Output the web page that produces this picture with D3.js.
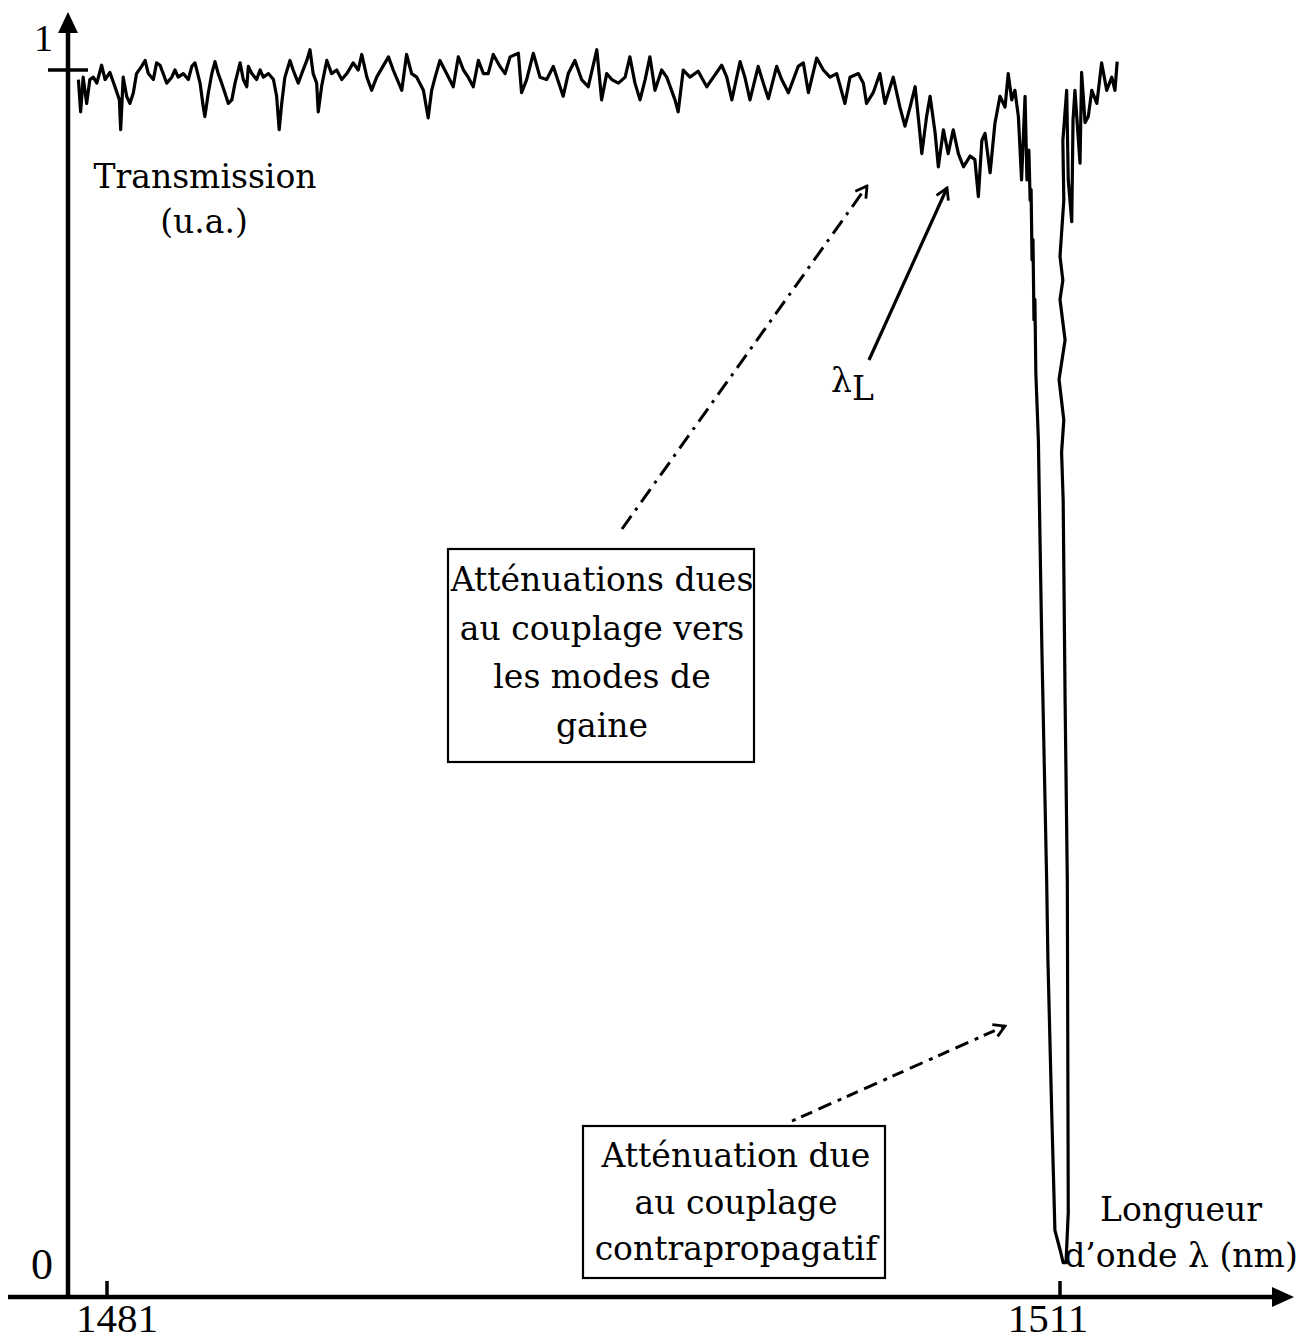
<!DOCTYPE html>
<html>
<head>
<meta charset="utf-8">
<script src="https://cdn.jsdelivr.net/npm/d3@7"></script>
<style>
  html, body { margin: 0; padding: 0; background: #fff; }
  svg { display: block; }
  .txt { font-family: "DejaVu Serif", serif; font-size: 33px; fill: #000; }
  .num { font-family: "Liberation Serif", "Times New Roman", serif; fill: #000; }
</style>
</head>
<body>
<svg id="chart" width="1300" height="1341"></svg>
<script>
// Transmission spectrum of the grating (wavelength in nm, normalised transmission)
const wavelengthNm = [
  1480.10,1480.17,1480.25,1480.36,1480.46,1480.57,1480.68,1480.83,1480.94,1481.09,
  1481.25,1481.39,1481.43,1481.51,1481.62,1481.72,1481.83,1481.93,1482.09,1482.20,
  1482.30,1482.46,1482.56,1482.67,1482.77,1482.88,1483.04,1483.14,1483.24,1483.40,
  1483.56,1483.67,1483.77,1483.93,1484.03,1484.08,1484.19,1484.30,1484.40,1484.50,
  1484.61,1484.71,1484.82,1484.93,1485.03,1485.19,1485.29,1485.40,1485.45,1485.56,
  1485.71,1485.82,1485.92,1486.08,1486.24,1486.34,1486.42,1486.50,1486.60,1486.76,
  1486.86,1487.02,1487.13,1487.29,1487.39,1487.49,1487.60,1487.65,1487.76,1487.92,
  1488.07,1488.23,1488.39,1488.55,1488.75,1488.91,
  1489.02,1489.18,1489.33,1489.49,1489.86,1490.01,1490.28,1490.43,1490.59,1490.75,
  1490.96,1491.11,1491.22,1491.33,1491.48,1491.69,1491.90,1492.06,1492.22,1492.37,
  1492.53,1492.69,1492.85,1493.00,1493.16,1493.37,1493.53,1493.69,1493.95,1494.05,
  1494.21,1494.42,1494.63,1494.84,1495.05,1495.36,1495.52,1495.73,1495.94,1496.15,
  1496.42,1496.57,1496.73,1496.89,1497.10,1497.31,1497.46,1497.62,1497.78,1497.94,
  1498.09,1498.25,1498.46,1498.62,1498.88,1498.98,1499.14,1499.35,1499.61,
  1499.88,1500.09,1500.35,1500.51,1500.67,1500.93,1501.08,1501.24,1501.50,1501.66,
  1501.82,1502.08,1502.24,1502.45,1502.76,1502.92,1503.08,1503.34,1503.55,1503.76,
  1503.97,1504.23,1504.39,1504.65,1504.81,1504.91,1505.12,1505.33,1505.49,1505.75,
  1505.96,1506.12,1506.28,1506.44,1506.59,1506.65,1506.80,1506.91,1507.07,1507.17,
  1507.33,1507.48,1507.64,1507.80,1507.96,1508.17,1508.32,1508.43,1508.54,1508.64,
  1508.80,1508.95,1509.11,1509.27,1509.37,1509.48,1509.58,1509.69,1509.79,1509.90,
  1509.96,1510.02,1510.06,1510.09,1510.12,1510.15,1510.18,1510.21,1510.24,1510.32,
  1510.35,1510.43,1510.58,1510.62,1510.74,1510.84,1511.00,1511.10,1511.19,1511.26,
  1511.23,1511.16,1511.10,1511.05,1511.12,1510.97,1511.16,1511.00,1511.09,1511.00,
  1511.12,1511.09,1511.21,1511.26,1511.37,1511.41,1511.47,1511.63,1511.68,1511.79,
  1511.89,1512.00,1512.16,1512.31,1512.47,1512.63,1512.73,1512.80
];
const transmission = [
  0.992,0.965,0.994,0.972,0.992,0.994,0.989,1.004,0.992,0.998,
  0.986,0.975,0.950,0.994,0.978,0.972,0.981,0.997,1.003,1.008,
  0.997,0.992,1.006,1.004,0.997,0.989,0.994,1.000,0.994,0.997,
  0.992,1.003,1.006,0.989,0.969,0.961,0.981,0.997,1.007,0.997,
  0.989,0.981,0.972,0.975,0.989,1.006,0.992,0.986,1.003,0.997,
  0.992,1.000,0.994,0.997,0.992,0.978,0.950,0.972,0.994,1.008,
  1.000,0.989,0.997,1.008,1.017,0.997,0.989,0.965,0.987,1.008,
  0.997,1.000,0.992,0.997,1.006,1.000,
  1.013,0.994,0.983,0.994,1.011,1.000,0.983,1.013,0.997,0.994,
  0.983,0.960,0.983,0.994,1.008,0.997,0.986,1.011,1.000,0.994,
  0.986,1.008,0.997,0.997,1.013,1.003,0.997,1.011,1.014,0.981,
  0.992,1.014,0.994,0.992,1.003,0.978,0.997,1.008,0.992,0.986,
  1.017,0.975,0.997,0.992,0.989,0.994,1.011,0.989,0.975,0.992,
  1.011,0.983,1.000,0.994,0.975,0.965,1.000,0.994,0.999,
  0.986,0.994,1.004,0.994,0.975,1.007,0.994,0.975,1.003,0.989,
  0.976,1.003,0.992,0.981,1.003,1.006,0.981,1.010,1.000,0.994,
  0.997,0.972,0.994,0.997,0.989,0.972,0.981,0.997,0.972,0.994,
  0.969,0.953,0.969,0.986,0.947,0.930,0.961,0.978,0.947,0.919,
  0.950,0.930,0.950,0.930,0.919,0.928,0.925,0.894,0.941,0.947,
  0.914,0.955,0.978,0.969,0.997,0.975,0.983,0.961,0.908,0.978,
  0.908,0.933,0.891,0.900,0.841,0.858,0.791,0.808,0.746,0.690,
  0.640,0.515,0.322,0.255,0.127,0.029,0.013,0.002,0.002,0.044,
  0.322,0.473,0.640,0.680,0.707,0.741,0.774,0.808,0.824,0.844,
  0.891,0.941,0.983,0.908,0.873,0.958,0.983,0.922,0.998,0.956,
  0.961,0.983,0.972,1.006,0.983,0.994,0.983,1.007
];

// Axis ticks
const xTicks = [1481, 1511];
const yTicks = [0, 1];

const svg = d3.select("#chart");

const x = d3.scaleLinear().domain([1481, 1511]).range([107, 1060]);
const y = d3.scaleLinear().domain([0, 1]).range([1265, 70]);

const axisX0 = 68;     // position of the vertical axis
const axisY0 = 1297;   // position of the horizontal axis

// Arrow heads
const defs = svg.append("defs");
defs.append("marker")
  .attr("id", "open-head")
  .attr("viewBox", "-12 -8 14 16")
  .attr("refX", 0).attr("refY", 0)
  .attr("markerWidth", 14).attr("markerHeight", 16)
  .attr("markerUnits", "userSpaceOnUse")
  .attr("orient", "auto")
  .append("path")
  .attr("d", "M-11,-6.5 L0,0 L-11,6.5")
  .attr("fill", "none")
  .attr("stroke", "#000")
  .attr("stroke-width", 2.8)
  .attr("stroke-linejoin", "miter");

// Vertical axis with arrow
svg.append("line")
  .attr("x1", axisX0).attr("y1", axisY0 + 2)
  .attr("x2", axisX0).attr("y2", 28)
  .attr("stroke", "#000").attr("stroke-width", 4.5);
svg.append("path")
  .attr("d", `M${axisX0 - 10},33 L${axisX0},12 L${axisX0 + 10},33 Z`)
  .attr("fill", "#000");

// Horizontal axis with arrow
svg.append("line")
  .attr("x1", 8).attr("y1", axisY0)
  .attr("x2", 1276).attr("y2", axisY0)
  .attr("stroke", "#000").attr("stroke-width", 4.5);
svg.append("path")
  .attr("d", `M1272,${axisY0 - 10} L1294,${axisY0} L1272,${axisY0 + 10} Z`)
  .attr("fill", "#000");

// x ticks and labels
svg.selectAll(".xtick").data(xTicks).enter().append("line")
  .attr("class", "xtick")
  .attr("x1", d => x(d)).attr("x2", d => x(d))
  .attr("y1", axisY0).attr("y2", axisY0 - 16)
  .attr("stroke", "#000").attr("stroke-width", 3.5);
svg.selectAll(".xlab").data(xTicks).enter().append("text")
  .attr("class", "num")
  .attr("x", (d, i) => x(d) + (i === 0 ? 10 : -12))
  .attr("y", 1332)
  .attr("text-anchor", "middle")
  .attr("font-size", 41)
  .text(d => d);

// y ticks and labels
svg.selectAll(".ytick").data(yTicks.filter(d => d === 1)).enter().append("line")
  .attr("x1", axisX0 - 20).attr("x2", axisX0 + 20)
  .attr("y1", d => y(d)).attr("y2", d => y(d))
  .attr("stroke", "#000").attr("stroke-width", 3.5);
svg.selectAll(".ylab").data(yTicks).enter().append("text")
  .attr("class", "num")
  .attr("x", 53)
  .attr("y", d => d === 1 ? 51 : 1279)
  .attr("text-anchor", "end")
  .attr("font-size", d => d === 1 ? 38 : 44)
  .text(d => d);

// Spectrum trace
const trace = wavelengthNm.map((w, i) => [w, transmission[i]]);
svg.append("path")
  .datum(trace)
  .attr("d", d3.line().x(d => x(d[0])).y(d => y(d[1])))
  .attr("fill", "none")
  .attr("stroke", "#000")
  .attr("stroke-width", 3.2)
  .attr("stroke-linejoin", "round");

// Axis titles
svg.append("text").attr("class", "txt")
  .attr("x", 205).attr("y", 188).attr("text-anchor", "middle")
  .text("Transmission");
svg.append("text").attr("class", "txt")
  .attr("x", 204).attr("y", 233).attr("text-anchor", "middle")
  .text("(u.a.)");
svg.append("text").attr("class", "txt")
  .attr("x", 1181).attr("y", 1221).attr("text-anchor", "middle")
  .text("Longueur");
svg.append("text").attr("class", "txt")
  .attr("x", 1181).attr("y", 1267).attr("text-anchor", "middle")
  .text("d\u2019onde \u03bb (nm)");

// Lambda_L label and its arrow
const lam = svg.append("text").attr("class", "txt")
  .attr("x", 831).attr("y", 392);
lam.append("tspan").text("\u03bb");
lam.append("tspan").attr("dy", 8).text("L");
svg.append("line")
  .attr("x1", 869).attr("y1", 360)
  .attr("x2", 947).attr("y2", 188)
  .attr("stroke", "#000").attr("stroke-width", 3.2)
  .attr("marker-end", "url(#open-head)");

// Annotation: cladding-mode losses
const box1 = { x: 448, y: 549, w: 306, h: 213 };
svg.append("rect")
  .attr("x", box1.x).attr("y", box1.y)
  .attr("width", box1.w).attr("height", box1.h)
  .attr("fill", "#fff").attr("stroke", "#000").attr("stroke-width", 2.2);
["Atténuations dues", "au couplage vers", "les modes de", "gaine"].forEach((s, i) => {
  svg.append("text").attr("class", "txt")
    .attr("x", box1.x + box1.w / 2 + 1).attr("y", 591 + i * 48.5)
    .attr("text-anchor", "middle").text(s);
});
svg.append("line")
  .attr("x1", 622).attr("y1", 529)
  .attr("x2", 867).attr("y2", 186)
  .attr("stroke", "#000").attr("stroke-width", 3)
  .attr("stroke-dasharray", "16,7,3,7")
  .attr("marker-end", "url(#open-head)");

// Annotation: counter-propagating coupling loss
const box2 = { x: 583, y: 1126, w: 302, h: 152 };
svg.append("rect")
  .attr("x", box2.x).attr("y", box2.y)
  .attr("width", box2.w).attr("height", box2.h)
  .attr("fill", "#fff").attr("stroke", "#000").attr("stroke-width", 2.2);
["Atténuation due", "au couplage", "contrapropagatif"].forEach((s, i) => {
  svg.append("text").attr("class", "txt")
    .attr("x", box2.x + box2.w / 2 + 2).attr("y", 1167 + i * 46.5)
    .attr("text-anchor", "middle").text(s);
});
svg.append("line")
  .attr("x1", 792).attr("y1", 1121)
  .attr("x2", 1005).attr("y2", 1026)
  .attr("stroke", "#000").attr("stroke-width", 3)
  .attr("stroke-dasharray", "4,6,12,7,14,7")
  .attr("marker-end", "url(#open-head)");
</script>
</body>
</html>
